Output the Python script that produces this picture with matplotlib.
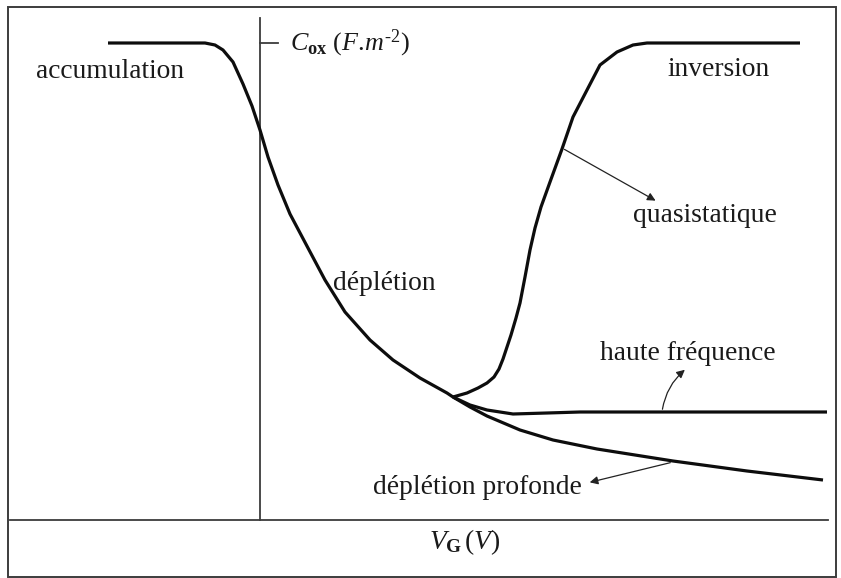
import matplotlib
matplotlib.use('Agg')
import matplotlib.pyplot as plt
from matplotlib.patches import Rectangle

# Courbes C(V) d'une capacité MOS (unités arbitraires, origine aux axes)
vg_depl = [-152, -100, -55, -45, -37, -27, -17, -8, 0, 8, 18, 30, 48, 65, 85,
           110, 133, 160, 187, 193, 210, 227, 260, 293, 337, 413, 487, 563]
c_depl = [477, 477, 477, 475, 470, 458, 436, 414, 390, 363, 335, 306, 272, 240, 208,
          180, 160, 142, 127, 123, 113, 104, 90, 80, 71, 59, 49, 40]

vg_qs = [193, 207, 218, 227, 234, 239, 243, 247, 251, 256, 260, 265, 270, 275, 281,
         290, 302, 313, 327, 340, 357, 373, 387, 440, 540]
c_qs = [123, 127, 132, 137, 143, 151, 161, 173, 185, 202, 217, 243, 270, 292, 313,
        338, 371, 403, 430, 455, 468, 475, 477, 477, 477]

vg_hf = [193, 210, 227, 253, 287, 320, 440, 567]
c_hf = [123, 115, 110, 106, 107, 108, 108, 108]

c_ox = 477

plt.rcParams['font.family'] = ['Liberation Serif', 'DejaVu Serif']
plt.rcParams['mathtext.fontset'] = 'custom'
plt.rcParams['mathtext.it'] = 'Liberation Serif:italic'
plt.rcParams['mathtext.rm'] = 'Liberation Serif'
plt.rcParams['mathtext.bf'] = 'Liberation Serif:bold'

fig = plt.figure(figsize=(8.41, 5.78), dpi=100)
ax = fig.add_axes([0, 0, 1, 1])
ax.set_xlim(-260, 581)
ax.set_ylim(-58, 520)
ax.axis('off')

ink = '#0d0d0d'
gris = '#3c3c3c'
txt = '#1a1a1a'
fs = 19.8

# cadre + axes
ax.add_patch(Rectangle((-252, -57), 828, 570, fill=False, lw=1.4, ec=gris))
ax.plot([-250, 568], [0, 0], color=gris, lw=1.3)
ax.plot([0, 0], [0, 502], color=gris, lw=1.3)
ax.plot([0, 18], [c_ox, c_ox], color=gris, lw=1.3)

# courbes
for vg, c in [(vg_depl, c_depl), (vg_qs, c_qs), (vg_hf, c_hf)]:
    ax.plot(vg, c, color=ink, lw=2.3, solid_capstyle='butt', solid_joinstyle='round')

# textes
ax.text(-150, 448, 'accumulation', fontsize=fs, ha='center', va='center', color=txt)
ax.text(459, 450, 'inversion', fontsize=fs, ha='center', va='center', color=txt)
ax.text(445, 305, 'quasistatique', fontsize=fs, ha='center', va='center', color=txt)
ax.text(124, 237, 'déplétion', fontsize=fs, ha='center', va='center', color=txt)
ax.text(428, 166, 'haute fréquence', fontsize=fs, ha='center', va='center', color=txt)
ax.text(217, 32, 'déplétion profonde', fontsize=fs, ha='center', va='center', color=txt)
ax.text(205, -22, r'$V_{\mathbf{G}}\,(V)$', fontsize=fs, ha='center', va='center', color=txt)
ax.text(30, 477, r'$C_{\mathbf{ox}}\ (F.\!m^{\text{-}2})$', fontsize=fs - 1, ha='left',
        va='center', color=txt)

# flèches
fl = dict(arrowstyle='-|>', color='#222222', lw=0.9, mutation_scale=12)
ax.annotate('', xy=(398, 318), xytext=(302, 372), arrowprops=fl)
ax.annotate('', xy=(427, 152), xytext=(402, 108),
            arrowprops=dict(fl, connectionstyle='arc3,rad=-0.2'))
ax.annotate('', xy=(327, 37), xytext=(413, 58), arrowprops=fl)

fig.savefig('out.png', dpi=100)
